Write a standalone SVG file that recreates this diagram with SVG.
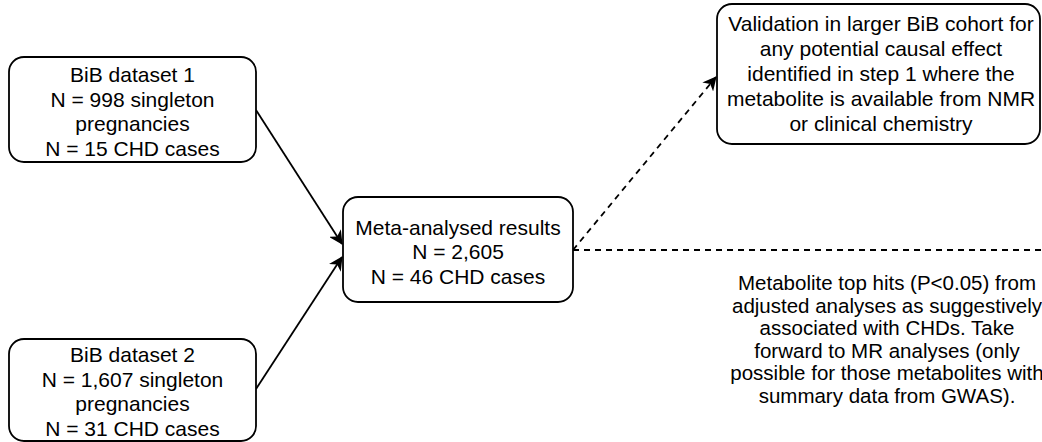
<svg xmlns="http://www.w3.org/2000/svg" width="1042" height="442" viewBox="0 0 1042 442">
<defs>
<style>
.box{fill:#fff;stroke:#000;stroke-width:1.8}
.t{font-family:"Liberation Sans",Arial,Helvetica,sans-serif;font-size:21px;fill:#000;text-anchor:middle}
.t2{font-family:"Liberation Sans",Arial,Helvetica,sans-serif;font-size:20.5px;fill:#000;text-anchor:middle}
.e{fill:none;stroke:#000;stroke-width:1.8}
.d{stroke-dasharray:6 5}
</style>
<marker id="arr" viewBox="0 0 14 14" refX="13" refY="7" markerWidth="14" markerHeight="14" markerUnits="userSpaceOnUse" orient="auto">
<path d="M0,0 L14,7 L0,14 L4,7 Z" fill="#000"/>
</marker>
</defs>
<rect width="1042" height="442" fill="#fff"/>
<g id="connectors">
<line class="e" x1="256" y1="110" x2="342" y2="244" marker-end="url(#arr)"/>
<line class="e" x1="256" y1="389" x2="342" y2="257" marker-end="url(#arr)"/>
<line class="e d" x1="573" y1="250" x2="716" y2="77" marker-end="url(#arr)"/>
<line class="e d" x1="573" y1="250" x2="1042" y2="250"/>
</g>
<g id="bib1">
<rect class="box" x="9" y="57" width="247" height="105" rx="15"/>
<text class="t" x="132.5" y="82">BiB dataset 1</text>
<text class="t" x="132.5" y="106.5">N = 998 singleton</text>
<text class="t" x="132.5" y="131">pregnancies</text>
<text class="t" x="132.5" y="155.5">N = 15 CHD cases</text>
</g>
<g id="bib2">
<rect class="box" x="9" y="339" width="247" height="102" rx="15"/>
<text class="t" x="132.5" y="362">BiB dataset 2</text>
<text class="t" x="132.5" y="386.5">N = 1,607 singleton</text>
<text class="t" x="132.5" y="411">pregnancies</text>
<text class="t" x="132.5" y="435.5">N = 31 CHD cases</text>
</g>
<g id="meta">
<rect class="box" x="343" y="197" width="230" height="105" rx="15"/>
<text class="t" x="458" y="234.5">Meta-analysed results</text>
<text class="t" x="458" y="259">N = 2,605</text>
<text class="t" x="458" y="283.5">N = 46 CHD cases</text>
</g>
<g id="validation">
<rect class="box" x="717" y="4" width="323" height="140" rx="15"/>
<text class="t" x="881" y="30.5">Validation in larger BiB cohort for</text>
<text class="t" x="881" y="56">any potential causal effect</text>
<text class="t" x="881" y="81">identified in step 1 where the</text>
<text class="t" x="881" y="106">metabolite is available from NMR</text>
<text class="t" x="881" y="131">or clinical chemistry</text>
</g>
<g id="tophits">
<text class="t2" x="887" y="290">Metabolite top hits (P&lt;0.05) from</text>
<text class="t2" x="887" y="312.5">adjusted analyses as suggestively</text>
<text class="t2" x="887" y="335">associated with CHDs. Take</text>
<text class="t2" x="887" y="357.5">forward to MR analyses (only</text>
<text class="t2" x="887" y="380">possible for those metabolites with</text>
<text class="t2" x="887" y="402.5">summary data from GWAS).</text>
</g>
</svg>
